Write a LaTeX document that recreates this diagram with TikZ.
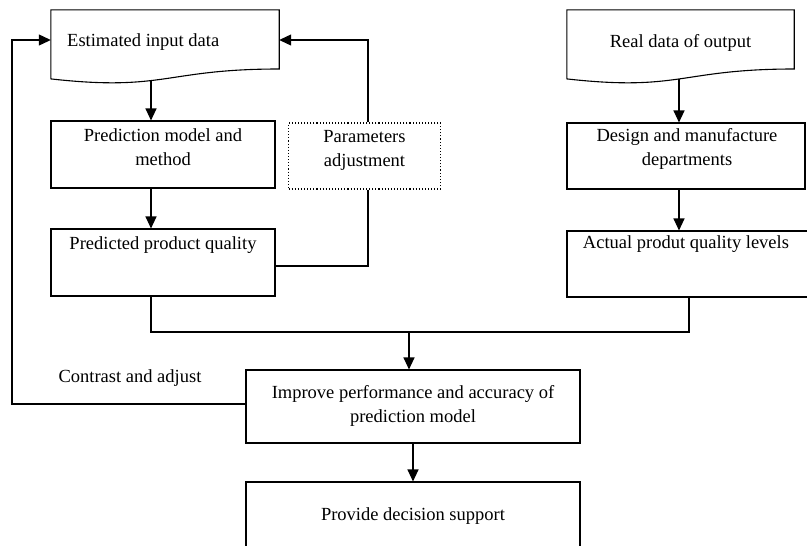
\documentclass[tikz,border=0pt]{standalone}
\usepackage{fontspec}
\setmainfont{Liberation Serif}
\usetikzlibrary{arrows.meta,calc}
\begin{document}
\begin{tikzpicture}[x=1pt,y=-1pt,
  ln/.style={line width=1.1pt},
  arr/.style={ln,-{Triangle[length=12pt,width=11pt]}},
  box/.style={draw,ln,inner sep=0pt},
  docbox/.style={inner sep=0pt},
  txt/.style={font=\fontsize{18.5}{24}\selectfont,align=center,inner sep=0pt,anchor=base}]
\useasboundingbox (0,0) rectangle (807,546);
\clip (0,0) rectangle (807,546);
% document shapes
\node[docbox,minimum width=228pt,minimum height=74pt] (eid) at (165,47) {};
\node[docbox,minimum width=227pt,minimum height=74pt] (rdo) at (680.5,47) {};
\foreach \d in {eid,rdo}{
  \draw[ln] (\d.north west) -- (\d.north east) -- ($(\d.north east)+(0,59.2)$)
    .. controls ($(\d.north)+(0,59.2)$) and ($(\d.north)+(0,81.9)$) .. ($(\d.north west)+(0,69.1)$)
    -- cycle;
}
% boxes
\node[box,minimum width=224pt,minimum height=67pt] (pm) at (163,154.5) {};
\node[box,minimum width=224pt,minimum height=67pt] (pq) at (163,262.5) {};
\node[box,dotted,minimum width=152pt,minimum height=66pt] (pa) at (364.5,156) {};
\node[box,minimum width=238pt,minimum height=66pt] (dm) at (686,156) {};
\node[box,minimum width=260pt,minimum height=66pt] (aq) at (697,264) {};
\node[box,minimum width=334pt,minimum height=73pt] (ip) at (413,406.5) {};
\node[box,minimum width=334pt,minimum height=80pt] (pd) at (413,522) {};
% texts
\node[txt,anchor=base west] (t1) at (67,46) {Estimated input data};
\node[txt] (t2) at (680.5,47) {Real data of output};
\node[txt] (t3) at (163,165) {Prediction model and\\method};
\node[txt] (t4) at (364.5,166) {Parameters\\adjustment};
\node[txt] (t5) at (163,249) {Predicted product quality};
\node[txt] (t6) at (687,165) {Design and manufacture\\departments};
\node[txt] (t7) at (686,248) {Actual produt quality levels};
\node[txt] (t8) at (130,382) {Contrast and adjust};
\node[txt] (t9) at (413,422) {Improve performance and accuracy of\\prediction model};
\node[txt] (t10) at (413,520) {Provide decision support};
% connectors
\coordinate (a1) at (151,81);
\draw[arr] (a1) -- (a1 |- pm.north);
\draw[arr] (pm.south -| a1) -- (pq.north -| a1);
\coordinate (a2) at (679,79);
\draw[arr] (a2) -- (a2 |- dm.north);
\draw[arr] (dm.south -| a2) -- (aq.north -| a2);
% parameter loop
\coordinate (px) at (368,266);
\draw[ln] (pq.east |- px) -- (px) -- (px |- pa.south);
\coordinate (py) at (368,40);
\draw[arr] (px |- pa.north) -- (py) -- (eid.east |- py);
% bus
\coordinate (bus) at (409,332);
\draw[ln] (pq.south -| a1) -- (a1 |- bus) -- ($(bus -| aq.south)+(-8,0)$) -- ($(aq.south)+(-8,0)$);
\draw[arr] (bus) -- (bus |- ip.north);
% feedback
\coordinate (fb) at (12,404);
\draw[arr] (ip.west |- fb) -- (fb) -- (fb |- py) -- (eid.west |- py);
\draw[arr] (ip.south) -- (pd.north);
\end{tikzpicture}
\end{document}
